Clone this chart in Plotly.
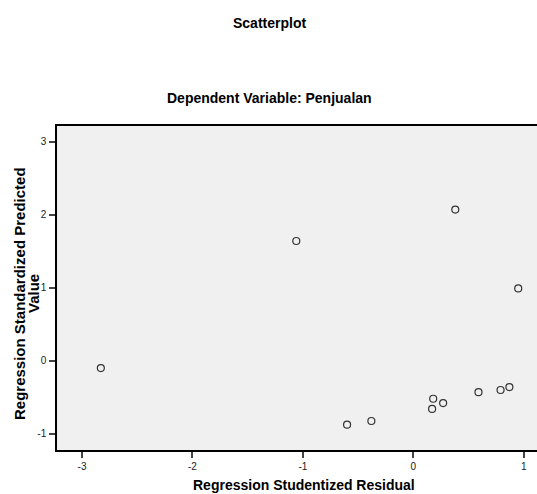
import plotly.graph_objects as go

# Data
residual = [-2.83, -1.06, 0.38, 0.95, 0.87, 0.79, 0.59, 0.27, 0.18, 0.17, -0.38, -0.60]
predicted = [-0.10, 1.64, 2.07, 0.99, -0.36, -0.40, -0.43, -0.58, -0.52, -0.66, -0.825, -0.875]
x_ticks = [-3, -2, -1, 0, 1]
y_ticks = [-1, 0, 1, 2, 3]

W, H = 537, 494
ml, mr, mt, mb = 57, 0, 126, 44

fig = go.Figure()
fig.add_trace(go.Scatter(
    x=residual, y=predicted, mode="markers",
    marker=dict(symbol="circle-open", size=7, color="#333333", line=dict(width=1.2)),
    showlegend=False, hoverinfo="x+y", cliponaxis=False,
))

FAM = "Liberation Sans, Arial, sans-serif"

fig.update_layout(
    width=W, height=H,
    margin=dict(l=ml, r=mr, t=mt, b=mb, pad=0, autoexpand=False),
    paper_bgcolor="white",
    plot_bgcolor="#f0f0f0",
    font=dict(family=FAM, size=10, color="black"),
    xaxis=dict(
        range=[-3.227, 1.12], tickvals=x_ticks, ticktext=[str(v) for v in x_ticks],
        showgrid=False, zeroline=False, showline=True, linecolor="black", linewidth=1.5,
        mirror=True, ticks="outside", ticklen=6, tickcolor="#444", tickwidth=1.5,
        tickfont=dict(size=10, color="#222"), automargin=False,
    ),
    yaxis=dict(
        range=[-1.222, 3.215], tickvals=y_ticks, ticktext=[str(v) for v in y_ticks],
        showgrid=False, zeroline=False, showline=True, linecolor="black", linewidth=1.5,
        mirror=False, ticks="outside", ticklen=6, tickcolor="#444", tickwidth=1.5,
        tickfont=dict(size=10, color="#222"), automargin=False, ticklabelstandoff=1,
    ),
)

pw = W - ml - mr
ph = H - mt - mb
def px_to_paper_x(px):
    return (px - ml) / pw
def px_to_paper_y(py):
    return (H - mb - py) / ph

def ann(text, cx, cy, size, angle=0):
    fig.add_annotation(text=text, xref="paper", yref="paper",
                       x=px_to_paper_x(cx), y=px_to_paper_y(cy), showarrow=False,
                       xanchor="center", yanchor="middle", textangle=angle,
                       font=dict(size=size, family=FAM, color="black"))

ann("<b>Scatterplot</b>", 269, 23, 14)
ann("<b>Dependent Variable: Penjualan</b>", 269, 98, 14)
ann("<b>Regression Studentized Residual</b>", 304, 485, 14)
ann("<b>Regression Standardized Predicted</b>", 19, 294, 15, angle=-90)
ann("<b>Value</b>", 33, 294, 15, angle=-90)

fig.write_html("out.html",
               config={"displayModeBar": False},
               post_script="document.body.style.margin='0';document.body.style.overflow='hidden';")
